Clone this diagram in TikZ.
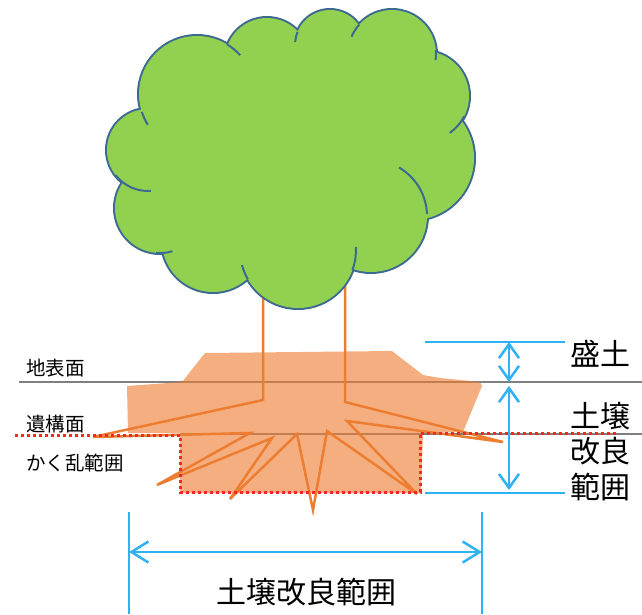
\documentclass[tikz,border=0pt]{standalone}
\usepackage{fontspec}
\newfontfamily\jpfont{Noto Sans CJK JP}
\usetikzlibrary{arrows.meta}

\definecolor{leafgreen}{HTML}{92D050}
\definecolor{leafedge}{HTML}{3D6A91}
\definecolor{rootorange}{HTML}{ED7D31}
\definecolor{soilorange}{HTML}{ED7D31}
\definecolor{groundgray}{HTML}{7F7F7F}
\definecolor{dimblue}{RGB}{44,178,245}
\definecolor{dotred}{RGB}{240,40,40}

\begin{document}
\begin{tikzpicture}[x=1pt,y=-1pt,
  groundline/.style={groundgray, line width=2pt},
  rootline/.style={rootorange, line width=2.5pt, line join=miter},
  soilfill/.style={fill=soilorange, fill opacity=0.62},
  rangeline/.style={dotred, line width=3pt, dash pattern=on 3pt off 3pt},
  dimline/.style={dimblue, line width=2.5pt},
  vtip/.tip={Straight Barb[length=14pt,width=20pt]},
  htip/.tip={Straight Barb[length=17pt,width=21pt]},
  smalllabel/.style={inner sep=0pt, anchor=west, font=\jpfont\fontsize{19.5}{23}\selectfont},
  biglabel/.style={inner sep=0pt, font=\jpfont\fontsize{30}{36}\selectfont},
  lobeedge/.style={leafedge, line width=2pt}]
\useasboundingbox (0,0) rectangle (642,614);

% ground surface and feature surface
\coordinate (gsL) at (19,382);
\coordinate (gsR) at (642,382);
\coordinate (fsL) at (180,434);
\coordinate (fsR) at (642,434);
\draw[groundline] (gsL) -- (gsR);
\draw[groundline] (fsL) -- (fsR);

% trunk and roots, one continuous line
\draw[rootline] (263,285) -- (263,400) -- (93,437) -- (250,433) -- (157,485)
  -- (272,438) -- (230,499) -- (297,434) -- (313,510) -- (327,431)
  -- (417,494) -- (347,421) -- (503,442) -- (345,402) -- (345,285);

% canopy: union of lobes with an outline
\def\lobes{197/94/58, 267/60/42, 330/45/35, 392/54/44, 424/96/45, 412/158/62,
  371/216/56, 298/250/58, 213/241/51, 160/208/45, 148/150/41}
\foreach \cx/\cy/\r in \lobes {
  \draw[leafedge, line width=4pt] (\cx,\cy) circle[radius=\r];
}
\fill[leafgreen] (197,94) -- (267,60) -- (330,45) -- (392,54) -- (424,96)
  -- (412,158) -- (371,216) -- (298,250) -- (213,241) -- (160,208) -- (148,150) -- cycle;
\foreach \cx/\cy/\r in \lobes {
  \fill[leafgreen] (\cx,\cy) circle[radius=\r];
}
% short inner arcs where the lobes meet
\foreach \cx/\cy/\r/\a/\b in {197/94/58/162/148, 197/94/58/301/318,
  330/45/35/202/185, 392/54/44/222/203, 392/54/44/-5/8, 424/96/45/27/55,
  371/216/56/300/358, 298/250/58/20/-3, 298/250/58/150/165,
  160/208/45/95/74, 148/150/41/142/86} {
  \draw[lobeedge] (\cx,\cy) ++(\a:\r) arc[start angle=\a, end angle=\b, radius=\r];
}

% improved soil and fill
\fill[soilfill] (205,353) -- (392,351) -- (423,375) -- (440,378) -- (480,382)
  -- (482,386) -- (463,432) -- (423,433) -- (421,493) -- (180,493) -- (180,433)
  -- (128,433) -- (127,386) -- (182,382) -- cycle;

% disturbed range
\coordinate (drA) at (15,435);
\coordinate (drB) at (180,435);
\coordinate (drC) at (180,492);
\coordinate (drD) at (420,492);
\coordinate (drE) at (420,433);
\coordinate (drF) at (617,433);
\draw[rangeline] (drA) -- (drB) -- (drC) -- (drD) -- (drE) -- (drF);

% vertical dimensions
\coordinate (topL) at (425,342);
\coordinate (topR) at (565,342);
\coordinate (botL) at (425,493);
\coordinate (botR) at (565,493);
\draw[dimline] (topL) -- (topR);
\draw[dimline] (botL) -- (botR);
\coordinate (mA) at (509,342);
\coordinate (mB) at (509,382);
\coordinate (mC) at (509,386);
\coordinate (mD) at (509,490);
\draw[dimline, {vtip}-{vtip}] (mA) -- (mB);
\draw[dimline, {vtip}-{vtip}] (mC) -- (mD);

% horizontal dimension
\coordinate (wL1) at (129,512);
\coordinate (wL2) at (129,614);
\coordinate (wR1) at (482,512);
\coordinate (wR2) at (482,614);
\draw[dimline] (wL1) -- (wL2);
\draw[dimline] (wR1) -- (wR2);
\coordinate (aL) at (129,552);
\coordinate (aR) at (482,552);
\draw[dimline, {htip}-{htip}] (aL) -- (aR);

% labels
\node[smalllabel] (tSurface) at (26,368) {地表面};
\node[smalllabel] (tFeature) at (26,424) {遺構面};
\node[smalllabel] (tDisturb) at (26,463) {かく乱範囲};
\node[biglabel, anchor=west] (tFill) at (570,354) {盛土};
\node[biglabel, anchor=west] (tSoilA) at (570,416) {土壌};
\node[biglabel, anchor=west] (tSoilB) at (570,451) {改良};
\node[biglabel, anchor=west] (tSoilC) at (570,487) {範囲};
\node[biglabel] (tWidth) at (306,592) {土壌改良範囲};
\end{tikzpicture}
\end{document}
